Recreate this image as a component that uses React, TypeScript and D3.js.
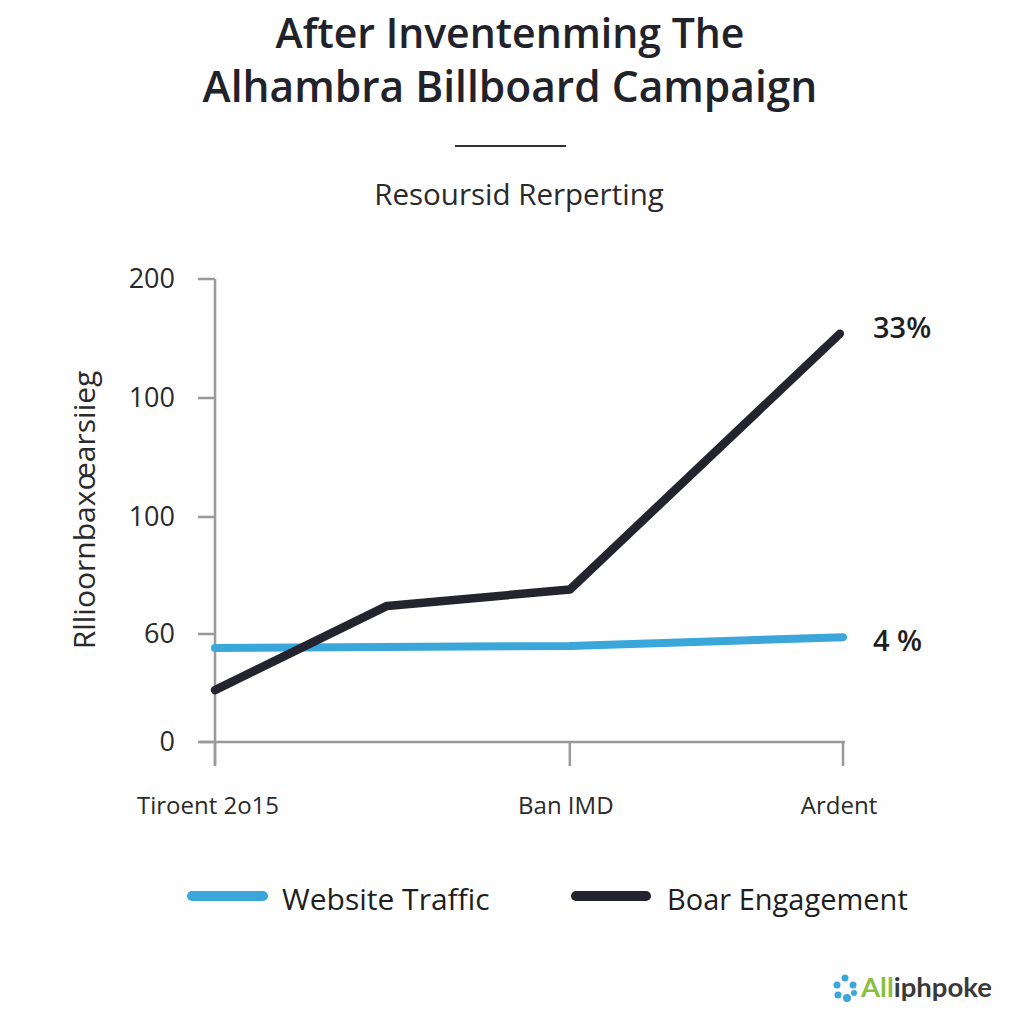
import React from 'react';
import * as d3 from 'd3';

// Category positions along the x axis (0..100 timeline) and their labels
const xTickValues = [0, 56.5, 100];
const xTickLabels = ['Tiroent 2o15', 'Ban IMD', 'Ardent'];

// Y ticks are drawn at equal-ish steps; values below are in tick units
const yTickValues = [0, 1, 2, 3, 4];
const yTickLabels = ['0', '60', '100', '100', '200'];

const trafficX = [0, 56.5, 100];
const trafficY = [0.87, 0.89, 0.97];

const engagementX = [0, 27.4, 56.5, 99.5];
const engagementY = [0.48, 1.24, 1.38, 3.54];

const endLabels = ['4 %', '33%'];
const seriesNames = ['Website Traffic', 'Boar Engagement'];

const BLUE = '#3aa6da';
const DARK = '#24242f';
const AXIS = '#9a9a9a';
const FONT = "'Open Sans', 'Noto Sans', sans-serif";

export default function App() {
  const width = 1024;
  const height = 1024;

  const x = d3.scaleLinear().domain([0, 100]).range([215, 843]);
  const y = d3.scaleLinear().domain(yTickValues).range([742, 634, 517, 398, 279]);

  const line = d3.line<[number, number]>()
    .x(d => x(d[0]))
    .y(d => y(d[1]));

  const traffic = trafficX.map((v, i) => [v, trafficY[i]] as [number, number]);
  const engagement = engagementX.map((v, i) => [v, engagementY[i]] as [number, number]);

  return (
    <svg
      width={width}
      height={height}
      style={{ position: 'absolute', left: 0, top: 0, background: '#fff' }}
      fontFamily={FONT}
    >
      <rect width={width} height={height} fill="#fefefe" />

      {/* Title */}
      <text x={510} y={48} textAnchor="middle" fontSize={41} fontWeight={600} fill="#22222a">
        After Inventenming The
      </text>
      <text x={510} y={102} textAnchor="middle" fontSize={42.5} fontWeight={600} fill="#22222a">
        Alhambra Billboard Campaign
      </text>
      <line x1={455} x2={566} y1={146} y2={146} stroke="#333" strokeWidth={2} />
      <text x={519} y={205} textAnchor="middle" fontSize={29.5} fill="#2a2a2a">
        Resoursid Rerperting
      </text>

      {/* Y axis */}
      <line x1={215} x2={215} y1={279} y2={766} stroke={AXIS} strokeWidth={2.5} />
      {yTickValues.map((v, i) => (
        <g key={'yt' + i}>
          <line x1={198} x2={215} y1={y(v)} y2={y(v)} stroke={AXIS} strokeWidth={2.5} />
          <text x={175} y={y(v) + 9} textAnchor="end" fontSize={27} fill="#2a2a2a">
            {yTickLabels[i]}
          </text>
        </g>
      ))}
      <text
        transform={`translate(95,${510}) rotate(-90)`}
        textAnchor="middle"
        fontSize={30}
        fill="#2a2a2a"
      >
        Rllioornbaxœarsiieg
      </text>

      {/* X axis */}
      <line x1={200} x2={845} y1={742} y2={742} stroke={AXIS} strokeWidth={2.5} />
      {xTickValues.map((v, i) => (
        <g key={'xt' + i}>
          <line x1={x(v)} x2={x(v)} y1={742} y2={766} stroke={AXIS} strokeWidth={2.5} />
          <text x={x(v) - (i === 0 ? 7 : 4)} y={814} textAnchor="middle" fontSize={24} fill="#2a2a2a">
            {xTickLabels[i]}
          </text>
        </g>
      ))}

      {/* Lines */}
      <path d={line(traffic) || ''} fill="none" stroke={BLUE} strokeWidth={8} strokeLinecap="round" strokeLinejoin="round" />
      <path d={line(engagement) || ''} fill="none" stroke={DARK} strokeWidth={8.5} strokeLinecap="round" strokeLinejoin="round" />

      {/* End labels */}
      <text x={873} y={651} fontSize={29} fontWeight={600} fill="#1e1e1e">{endLabels[0]}</text>
      <text x={873} y={338} fontSize={29} fontWeight={600} fill="#1e1e1e">{endLabels[1]}</text>

      {/* Legend */}
      <line x1={192} x2={263} y1={896} y2={896} stroke={BLUE} strokeWidth={10} strokeLinecap="round" />
      <text x={282} y={910} fontSize={30} fill="#1e1e1e">{seriesNames[0]}</text>
      <line x1={576} x2={646} y1={896} y2={896} stroke={DARK} strokeWidth={10} strokeLinecap="round" />
      <text x={667} y={910} fontSize={29} fill="#1e1e1e">{seriesNames[1]}</text>

      {/* Logo */}
      <g transform="translate(845,988)">
        <circle cx={0} cy={-10} r={3.5} fill={BLUE} />
        <circle cx={-8} cy={-3} r={3.5} fill={BLUE} />
        <circle cx={8} cy={-3} r={3.5} fill={BLUE} />
        <circle cx={-7} cy={7} r={3.5} fill={BLUE} />
        <circle cx={2} cy={10} r={4} fill={BLUE} />
        <circle cx={9} cy={5} r={3} fill={BLUE} />
      </g>
      <text x={861} y={997} fontSize={27.5} fontWeight={700} fontFamily="Lato, 'Open Sans', sans-serif">
        <tspan fill="#8cbf3f">All</tspan>
        <tspan fill="#3a3a3a">iphpoke</tspan>
      </text>
    </svg>
  );
}
